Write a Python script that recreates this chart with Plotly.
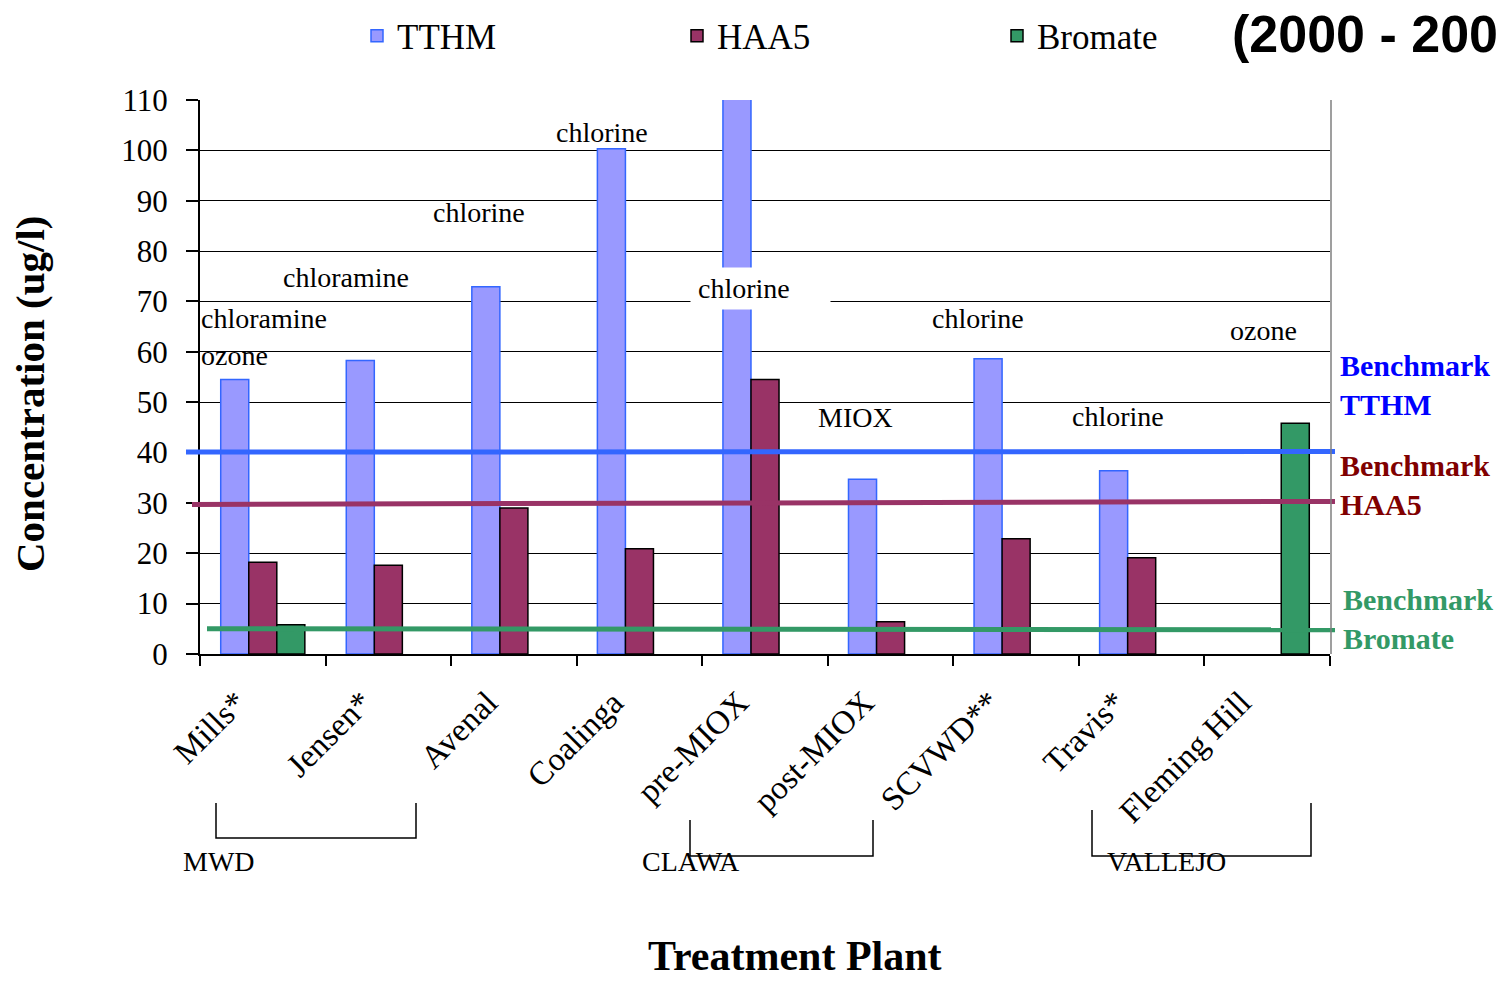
import plotly.graph_objects as go

# Disinfection by-product concentrations by treatment plant (ug/l)
plants = ["Mills*", "Jensen*", "Avenal", "Coalinga", "pre-MIOX",
          "post-MIOX", "SCVWD**", "Travis*", "Fleming Hill"]
tthm = [54.5, 58.3, 72.9, 100.3, 110.6, 34.7, 58.6, 36.4, None]
haa5 = [18.2, 17.6, 29.0, 20.9, 54.5, 6.4, 22.9, 19.1, None]
bromate = [5.8, None, None, None, None, None, None, None, 45.8]

# Benchmark levels (left end, right end)
bench_tthm = [40.1, 40.2]
bench_haa5 = [29.7, 30.3]
bench_bromate = [5.0, 4.8]

# Disinfection method noted above each plant
methods = [
    ("chloramine", 264, 318), ("ozone", 234, 355),
    ("chloramine", 346, 277), ("chlorine", 479, 212),
    ("chlorine", 602, 132), ("MIOX", 855, 418),
    ("chlorine", 978, 318), ("chlorine", 1118, 416),
    ("ozone", 1263, 330),
]
premiox_method = "chlorine"

groups = ["MWD", "CLAWA", "VALLEJO"]

W, H = 1498, 985
L, R, T, B = 200, 168, 100, 331
PW, PH = W - L - R, H - T - B
SERIF = "Liberation Serif, Times New Roman, serif"


def px(x):
    return (x - L) / PW


def py(y):
    return (T + PH - y) / PH


def note(text, x, y, size, color="#000", family=SERIF, xanchor="center", **kw):
    return dict(text=text, x=px(x), y=py(y), xref="paper", yref="paper",
                xanchor=xanchor, yanchor="middle", showarrow=False,
                font=dict(family=family, size=size, color=color), **kw)


fig = go.Figure()
fig.add_bar(name="TTHM", x=plants, y=tthm, marker_color="#9999FF",
            marker_line=dict(color="#3366FF", width=1.5), cliponaxis=False)
fig.add_bar(name="HAA5", x=plants, y=haa5, marker_color="#993366",
            marker_line=dict(color="#000000", width=1.5), cliponaxis=False)
fig.add_bar(name="Bromate", x=plants, y=bromate, marker_color="#339966",
            marker_line=dict(color="#000000", width=1.5), cliponaxis=False)

shapes = []
# benchmark lines
for vals, col, x0 in [(bench_tthm, "#3366FF", 186),
                      (bench_haa5, "#993366", 192),
                      (bench_bromate, "#339966", 207)]:
    shapes.append(dict(type="line", xref="paper", yref="y",
                       x0=px(x0), x1=px(1335), y0=vals[0], y1=vals[1],
                       line=dict(color=col, width=5), layer="above"))
# right border of plot area
shapes.append(dict(type="line", xref="paper", yref="paper",
                   x0=px(1331), x1=px(1331), y0=0, y1=1,
                   line=dict(color="#7f7f7f", width=1.5)))
# utility brackets
brackets = [(216, 803, 416, 803, 838), (690, 820, 873, 820, 856),
            (1092, 810, 1311, 803, 856)]
for xl, yl, xr, yr, yb in brackets:
    path = (f"M {px(xl)},{py(yl)} L {px(xl)},{py(yb)} "
            f"L {px(xr)},{py(yb)} L {px(xr)},{py(yr)}")
    shapes.append(dict(type="path", xref="paper", yref="paper", path=path,
                       line=dict(color="#000000", width=1.5)))

ann = []
for txt, x, y in methods:
    ann.append(note(txt, x, y, 28))
ann.append(note(premiox_method, 760, 288, 28, bgcolor="#ffffff",
                width=125, height=27, borderpad=7, align="left"))

for g, x in zip(groups, [181, 640, 1105]):
    ann.append(note(g, x, 861, 28, xanchor="left"))

bench_labels = [("Benchmark<br>TTHM", "#0000FF", 1338, 385),
                ("Benchmark<br>HAA5", "#800000", 1338, 485),
                ("Benchmark<br>Bromate", "#339966", 1341, 619)]
for txt, col, x, y in bench_labels:
    ann.append(note("<b>" + txt + "</b>", x, y, 30, color=col,
                    xanchor="left", align="left"))

ann.append(note("<b>Concentration (ug/l)</b>", 30, 394, 41, textangle=-90))
ann.append(note("<b>Treatment Plant</b>", 795, 956, 42))
ann.append(note("<b>(2000 - 200</b>", 1230, 34, 52, xanchor="left",
                family="Liberation Sans, Arial, sans-serif"))

fig.update_layout(
    width=W, height=H,
    margin=dict(l=L, r=R, t=T, b=B, autoexpand=False),
    paper_bgcolor="#ffffff", plot_bgcolor="#ffffff",
    barmode="group", bargap=0.33, bargroupgap=0,
    showlegend=True,
    legend=dict(orientation="h", x=px(357), y=py(36), xanchor="left",
                yanchor="middle", entrywidth=275, entrywidthmode="pixels",
                font=dict(family=SERIF, size=35, color="#000"),
                bgcolor="rgba(0,0,0,0)"),
    shapes=shapes, annotations=ann,
)
fig.update_xaxes(type="category", tickson="boundaries", ticks="outside",
                 ticklen=10, tickwidth=1.5, tickcolor="#000",
                 showline=True, linecolor="#000", linewidth=2,
                 showgrid=False, tickangle=-45,
                 ticklabelstandoff=14, ticklabelshift=-26,
                 tickfont=dict(family=SERIF, size=33, color="#000"))
fig.update_yaxes(range=[0, 110], dtick=10, ticks="outside", ticklen=12,
                 tickwidth=1.5, tickcolor="#000",
                 showline=True, linecolor="#000", linewidth=2,
                 showgrid=True, gridcolor="#000", gridwidth=1,
                 zeroline=False, ticklabelstandoff=12,
                 tickfont=dict(family=SERIF, size=31, color="#000"))

fig.write_html("out.html")
